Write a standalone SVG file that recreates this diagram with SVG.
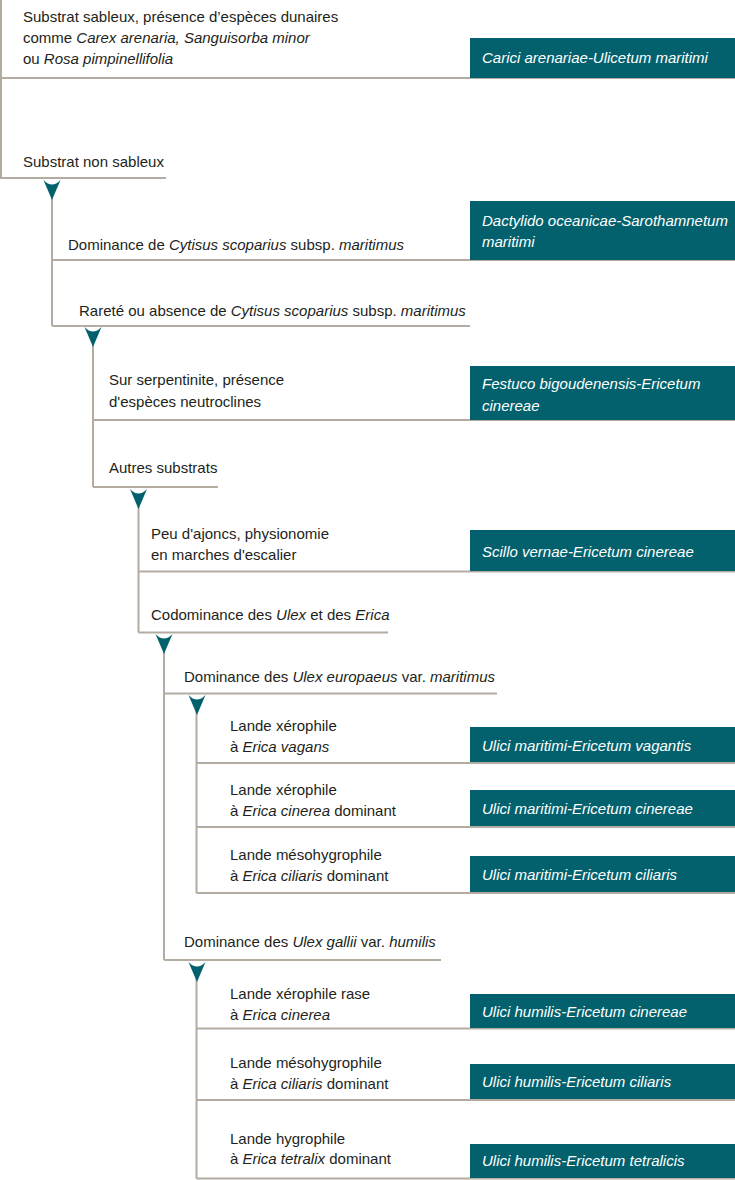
<svg xmlns="http://www.w3.org/2000/svg" width="735" height="1180" viewBox="0 0 735 1180">
<defs>
<style>
.t{font-family:"Liberation Sans",Arial,sans-serif;font-size:15px;fill:#231f20}
.w{font-family:"Liberation Sans",Arial,sans-serif;font-size:15px;fill:#ffffff;font-style:italic}
.i{font-style:italic}
.ln{stroke:#b4aba1;stroke-width:2;fill:none}
.box{fill:#03616d}
.ar{fill:#03616d}
</style>
<path id="arrow" d="M-8.5,0 Q0,9 8.5,0 L0,20 Z"/>
</defs>
<rect width="735" height="1180" fill="#ffffff"/>

<g id="connectors">
<path class="ln" d="M1,0 V178"/>
<path class="ln" d="M52,185 V326"/>
<path class="ln" d="M93,332 V487"/>
<path class="ln" d="M138.5,494 V632.5"/>
<path class="ln" d="M164,639 V960"/>
<path class="ln" d="M196.5,700 V893"/>
<path class="ln" d="M196.5,967 V1178.5"/>
<use href="#arrow" class="ar" x="52" y="180"/>
<use href="#arrow" class="ar" x="93" y="327"/>
<use href="#arrow" class="ar" x="138.5" y="489"/>
<use href="#arrow" class="ar" x="164" y="634"/>
<use href="#arrow" class="ar" x="197" y="695"/>
<use href="#arrow" class="ar" x="197" y="962"/>
</g>

<g id="n1">
<text class="t" x="23" y="22">Substrat sableux, présence d’espèces dunaires</text>
<text class="t" x="23" y="43">comme <tspan class="i">Carex arenaria, Sanguisorba minor</tspan></text>
<text class="t" x="23" y="64">ou <tspan class="i">Rosa pimpinellifolia</tspan></text>
<path class="ln" d="M0,78 H735"/>
</g>
<g id="r1">
<rect class="box" x="470" y="38" width="265" height="40"/>
<text class="w" x="482" y="63">Carici arenariae-Ulicetum maritimi</text>
</g>

<g id="n2">
<text class="t" x="23" y="166.5">Substrat non sableux</text>
<path class="ln" d="M0,178 H166"/>
</g>

<g id="n3">
<text class="t" x="68" y="250">Dominance de <tspan class="i">Cytisus scoparius</tspan> subsp. <tspan class="i">maritimus</tspan></text>
<path class="ln" d="M52,260 H735"/>
</g>
<g id="r2">
<rect class="box" x="470" y="201" width="265" height="59"/>
<text class="w" x="482" y="226">Dactylido oceanicae-Sarothamnetum</text>
<text class="w" x="482" y="247">maritimi</text>
</g>

<g id="n4">
<text class="t" x="79" y="315.5">Rareté ou absence de <tspan class="i">Cytisus scoparius</tspan> subsp. <tspan class="i">maritimus</tspan></text>
<path class="ln" d="M52,326 H470"/>
</g>

<g id="n5">
<text class="t" x="109" y="385">Sur serpentinite, présence</text>
<text class="t" x="109" y="407">d'espèces neutroclines</text>
<path class="ln" d="M93,420 H735"/>
</g>
<g id="r3">
<rect class="box" x="470" y="366" width="265" height="54"/>
<text class="w" x="482" y="389">Festuco bigoudenensis-Ericetum</text>
<text class="w" x="482" y="411">cinereae</text>
</g>

<g id="n6">
<text class="t" x="109" y="472.5">Autres substrats</text>
<path class="ln" d="M93,487 H218"/>
</g>

<g id="n7">
<text class="t" x="151" y="539">Peu d'ajoncs, physionomie</text>
<text class="t" x="151" y="560">en marches d'escalier</text>
<path class="ln" d="M138.5,571.5 H735"/>
</g>
<g id="r4">
<rect class="box" x="470" y="530" width="265" height="41"/>
<text class="w" x="482" y="556.5">Scillo vernae-Ericetum cinereae</text>
</g>

<g id="n8">
<text class="t" x="151" y="620">Codominance des <tspan class="i">Ulex</tspan> et des <tspan class="i">Erica</tspan></text>
<path class="ln" d="M138.5,632.5 H388"/>
</g>

<g id="n9">
<text class="t" x="184" y="681.5">Dominance des <tspan class="i">Ulex europaeus</tspan> var. <tspan class="i">maritimus</tspan></text>
<path class="ln" d="M164,693.5 H497"/>
</g>

<g id="n10">
<text class="t" x="230" y="731">Lande xérophile</text>
<text class="t" x="230" y="752">à <tspan class="i">Erica vagans</tspan></text>
<path class="ln" d="M196.5,763 H735"/>
</g>
<g id="r5">
<rect class="box" x="470" y="727" width="265" height="35"/>
<text class="w" x="482" y="751">Ulici maritimi-Ericetum vagantis</text>
</g>

<g id="n11">
<text class="t" x="230" y="795">Lande xérophile</text>
<text class="t" x="230" y="816">à <tspan class="i">Erica cinerea</tspan> dominant</text>
<path class="ln" d="M196.5,827 H735"/>
</g>
<g id="r6">
<rect class="box" x="470" y="790" width="265" height="36"/>
<text class="w" x="482" y="814">Ulici maritimi-Ericetum cinereae</text>
</g>

<g id="n12">
<text class="t" x="230" y="860">Lande mésohygrophile</text>
<text class="t" x="230" y="881">à <tspan class="i">Erica ciliaris</tspan> dominant</text>
<path class="ln" d="M196.5,893 H735"/>
</g>
<g id="r7">
<rect class="box" x="470" y="856" width="265" height="36"/>
<text class="w" x="482" y="880">Ulici maritimi-Ericetum ciliaris</text>
</g>

<g id="n13">
<text class="t" x="184" y="946.5">Dominance des <tspan class="i">Ulex gallii</tspan> var. <tspan class="i">humilis</tspan></text>
<path class="ln" d="M164,960 H441"/>
</g>

<g id="n14">
<text class="t" x="230" y="999">Lande xérophile rase</text>
<text class="t" x="230" y="1019.5">à <tspan class="i">Erica cinerea</tspan></text>
<path class="ln" d="M196.5,1028.5 H735"/>
</g>
<g id="r8">
<rect class="box" x="470" y="994" width="265" height="34"/>
<text class="w" x="482" y="1017">Ulici humilis-Ericetum cinereae</text>
</g>

<g id="n15">
<text class="t" x="230" y="1067.5">Lande mésohygrophile</text>
<text class="t" x="230" y="1088.5">à <tspan class="i">Erica ciliaris</tspan> dominant</text>
<path class="ln" d="M196.5,1100 H735"/>
</g>
<g id="r9">
<rect class="box" x="470" y="1064" width="265" height="35"/>
<text class="w" x="482" y="1087">Ulici humilis-Ericetum ciliaris</text>
</g>

<g id="n16">
<text class="t" x="230" y="1143.5">Lande hygrophile</text>
<text class="t" x="230" y="1164">à <tspan class="i">Erica tetralix</tspan> dominant</text>
<path class="ln" d="M196.5,1178.5 H735"/>
</g>
<g id="r10">
<rect class="box" x="470" y="1144" width="265" height="34"/>
<text class="w" x="482" y="1166">Ulici humilis-Ericetum tetralicis</text>
</g>
</svg>
